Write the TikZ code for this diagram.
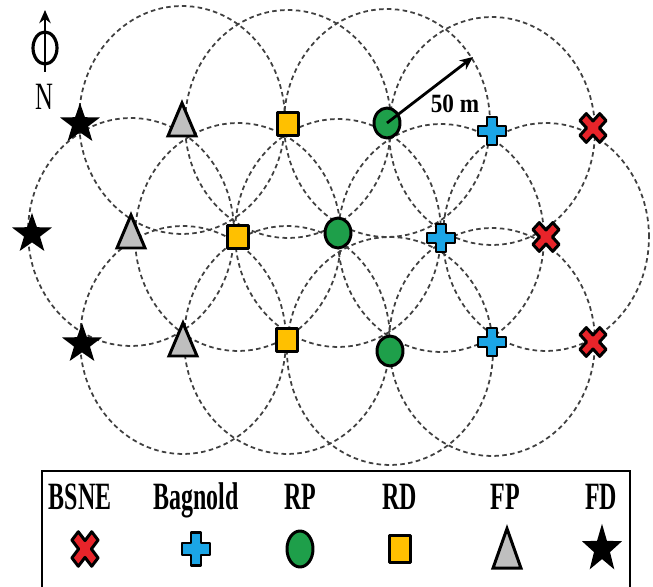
\documentclass[tikz,border=0pt]{standalone}
\usepackage{fontspec}
\setmainfont{Liberation Serif}
\usetikzlibrary{shapes.geometric,arrows.meta}
\definecolor{bsnered}{HTML}{E8242A}
\definecolor{bagblue}{HTML}{1BA5E6}
\definecolor{rpgreen}{HTML}{1E9F4A}
\definecolor{rdgold}{HTML}{FFC000}
\definecolor{fpgrey}{HTML}{BFBFBF}
\definecolor{ringgrey}{HTML}{404040}
\newcommand{\narrow}[2][0.62]{\scalebox{#1}[1]{#2}}
\tikzset{
  ring/.style={draw=ringgrey, line width=1pt, dash pattern=on 2.6pt off 1.9pt},
  edged/.style={draw=black, line width=1.7pt, line join=round},
  fd/.style={star, star points=5, star point ratio=2.5, fill=black, minimum size=0.84cm, inner sep=0pt},
  rp/.style={ellipse, edged, fill=rpgreen, minimum width=0.52cm, minimum height=0.6cm, inner sep=0pt},
  rd/.style={rectangle, edged, fill=rdgold, minimum width=0.42cm, minimum height=0.46cm, inner sep=0pt},
  fpmark/.pic={\path[edged, fill=fpgrey, line join=miter] (-14,16) -- (0,-17) -- (14,16) -- cycle;},
  bagmark/.pic={\path[edged, fill=bagblue] (-5,-14) -- (5,-14) -- (5,-5) -- (14,-5) -- (14,5) -- (5,5) -- (5,14) -- (-5,14) -- (-5,5) -- (-14,5) -- (-14,-5) -- (-5,-5) -- cycle;},
  bsnemark/.pic={\path[edged, fill=bsnered, yscale=1.1, rotate=45] (-4.5,-14) -- (4.5,-14) -- (4.5,-4.5) -- (14,-4.5) -- (14,4.5) -- (4.5,4.5) -- (4.5,14) -- (-4.5,14) -- (-4.5,4.5) -- (-14,4.5) -- (-14,-4.5) -- (-4.5,-4.5) -- cycle;},
  lgd/.style={font=\bfseries\fontsize{22}{26}\selectfont, inner sep=0pt, anchor=base},
}
\begin{document}
\begin{tikzpicture}[x=0.02cm, y=-0.02cm, >={Stealth[length=7.5pt, width=6.5pt]}]
\useasboundingbox (0,0) rectangle (653,587);
\coordinate (a1) at (80,124);
\coordinate (a2) at (182,120);
\coordinate (a3) at (288,124);
\coordinate (a4) at (387,123);
\coordinate (a5) at (492,131);
\coordinate (a6) at (593,128);
\coordinate (b1) at (32,234);
\coordinate (b2) at (131,232);
\coordinate (b3) at (238,237);
\coordinate (b4) at (338,233);
\coordinate (b5) at (441,238);
\coordinate (b6) at (546,237);
\coordinate (c1) at (82,344);
\coordinate (c2) at (183,340);
\coordinate (c3) at (287,340);
\coordinate (c4) at (390,351);
\coordinate (c5) at (492,342);
\coordinate (c6) at (593,342);
\draw[ring] (a2) ellipse [x radius=2.06cm, y radius=2.28cm];
\draw[ring] (a3) ellipse [x radius=2.06cm, y radius=2.28cm];
\draw[ring] (a4) ellipse [x radius=2.06cm, y radius=2.28cm];
\draw[ring] (a5) ellipse [x radius=2.06cm, y radius=2.28cm];
\draw[ring] (b2) ellipse [x radius=2.06cm, y radius=2.28cm];
\draw[ring] (b3) ellipse [x radius=2.06cm, y radius=2.28cm];
\draw[ring] (b4) ellipse [x radius=2.06cm, y radius=2.28cm];
\draw[ring] (b5) ellipse [x radius=2.06cm, y radius=2.28cm];
\draw[ring] (b6) ellipse [x radius=2.06cm, y radius=2.28cm];
\draw[ring] (c2) ellipse [x radius=2.06cm, y radius=2.28cm];
\draw[ring] (c3) ellipse [x radius=2.06cm, y radius=2.28cm];
\draw[ring] (c4) ellipse [x radius=2.06cm, y radius=2.28cm];
\draw[ring] (c5) ellipse [x radius=2.06cm, y radius=2.28cm];
\node[fd] (fda) at (a1) {};
\pic (fpa) at (a2) {fpmark};
\node[rd] (rda) at (a3) {};
\node[rp] (rpa) at (a4) {};
\pic (baga) at (a5) {bagmark};
\pic (bsnea) at (a6) {bsnemark};
\node[fd] (fdb) at (b1) {};
\pic (fpb) at (b2) {fpmark};
\node[rd] (rdb) at (b3) {};
\node[rp] (rpb) at (b4) {};
\pic (bagb) at (b5) {bagmark};
\pic (bsneb) at (b6) {bsnemark};
\node[fd] (fdc) at (c1) {};
\pic (fpc) at (c2) {fpmark};
\node[rd] (rdc) at (c3) {};
\node[rp] (rpc) at (c4) {};
\pic (bagc) at (c5) {bagmark};
\pic (bsnec) at (c6) {bsnemark};
\coordinate (rtip) at (473,57);
\draw[->, line width=1.6pt] (rpa.center) -- (rtip);
\node[font=\bfseries\fontsize{15}{17}\selectfont, inner sep=0pt, anchor=base] (dist) at (455,113) {\narrow[0.88]{50 m}};
\coordinate (ntail) at (45,72);
\coordinate (nhead) at (45,10);
\coordinate (nring) at (45,48);
\draw[line width=1.8pt] (nring) ellipse [x radius=0.24cm, y radius=0.32cm];
\draw[->, line width=1.6pt] (ntail) -- (nhead);
\node[font=\fontsize{22}{26}\selectfont, inner sep=0pt, anchor=base] (north) at (44,110) {\narrow[0.64]{N}};
\draw[line width=1.7pt] (42,595) -- (42,471) -- (630,471) -- (630,595);
\node[lgd] (lbsne) at (80,510) {\narrow{BSNE}};
\node[lgd] (lbag) at (196,510) {\narrow{Bagnold}};
\node[lgd] (lrp) at (300,510) {\narrow{RP}};
\node[lgd] (lrd) at (400,510) {\narrow{RD}};
\node[lgd] (lfp) at (505,510) {\narrow{FP}};
\node[lgd] (lfd) at (601,510) {\narrow{FD}};
\begin{scope}[shift={(0,549)}, yscale=1.2, every node/.style={transform shape}]
\pic (lbsnem) at (85,0) {bsnemark};
\pic (lbagm) at (196,0) {bagmark};
\node[rp] (lrpm) at (300,0) {};
\node[rd] (lrdm) at (400,0) {};
\pic (lfpm) at (507,0) {fpmark};
\node[fd] (lfdm) at (602,0) {};
\end{scope}
\end{tikzpicture}
\end{document}
